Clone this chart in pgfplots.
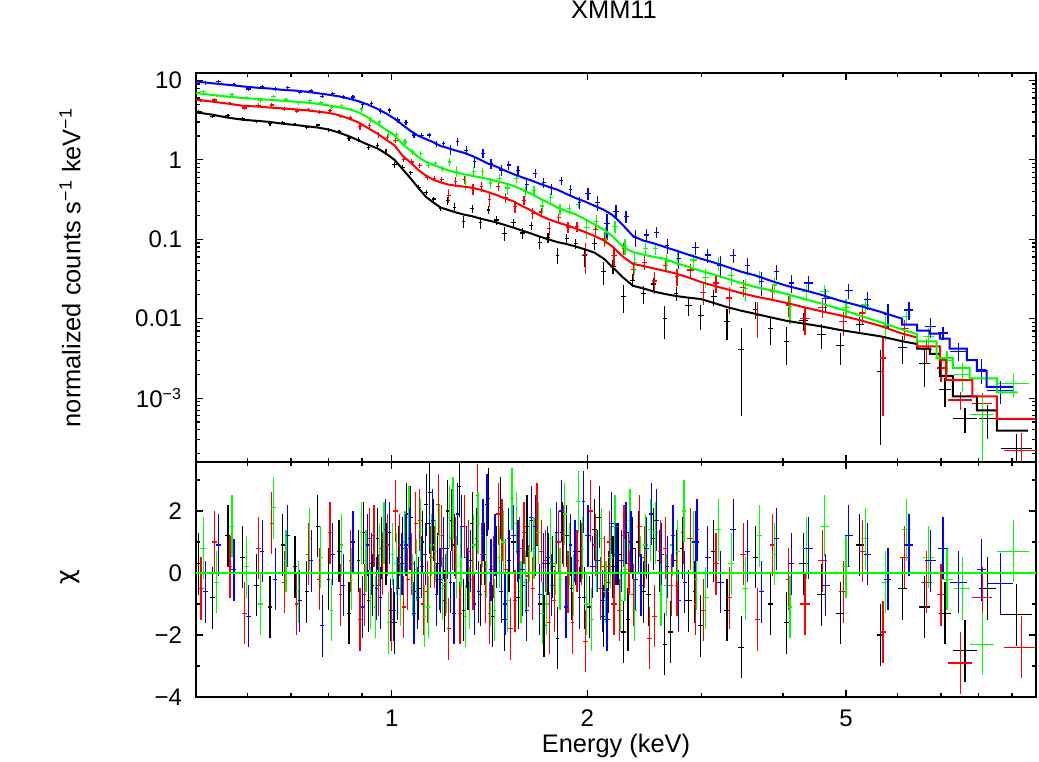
\documentclass[border=0pt]{standalone}
\usepackage{fontspec}
\setmainfont{Liberation Sans}
\newfontfamily\dejavu{DejaVu Sans}
\usepackage{pgfplots}
\usepackage{pgfplotstable}
\pgfplotsset{compat=1.18}

% columns: energy, half bin width, flux, flux error, residual (chi)
\pgfplotstableread{
E dE F dF C
0.505 0.005 4.01 0.198 0.3
0.530 0.005 3.55 0.185 -0.8
0.560 0.005 3.60 0.170 1.2
0.590 0.005 3.28 0.160 0.5
0.620 0.005 3.04 0.155 -0.4
0.650 0.005 2.84 0.150 -1.1
0.680 0.005 2.98 0.143 0.9
0.710 0.005 2.78 0.138 0.2
0.740 0.005 2.57 0.133 -0.6
0.770 0.005 2.74 0.128 1.5
0.800 0.005 2.39 0.120 -0.2
0.830 0.005 2.28 0.110 0.7
0.860 0.005 1.85 0.099 -1.3
0.890 0.005 1.81 0.140 0.4
0.920 0.005 1.44 0.124 -0.9
0.950 0.005 1.52 0.112 1.1
0.980 0.005 1.26 0.096 0.6
1.010 0.008 0.872 0.080 -1.6
1.040 0.008 0.809 0.061 0.8
1.070 0.008 0.686 0.048 1.8
1.100 0.008 0.451 0.038 -0.5
1.130 0.008 0.388 0.026 2.2
1.160 0.008 0.322 0.023 1.4
1.190 0.008 0.244 0.020 -0.3
1.220 0.008 0.306 0.035 2.0
1.250 0.008 0.250 0.033 0.9
1.290 0.008 0.168 0.031 -1.2
1.330 0.008 0.242 0.029 1.6
1.370 0.008 0.163 0.027 -0.7
1.410 0.008 0.234 0.026 2.4
1.450 0.012 0.175 0.024 0.5
1.490 0.012 0.118 0.023 -1.5
1.540 0.012 0.161 0.021 1.0
1.590 0.012 0.120 0.019 -0.4
1.640 0.012 0.148 0.018 1.7
1.690 0.012 0.0918 0.016 -1.0
1.740 0.012 0.1045 0.015 0.3
1.800 0.012 0.063 0.0138 -2.1
1.860 0.012 0.1027 0.013 1.2
1.920 0.012 0.0883 0.0122 0.6
1.980 0.020 0.0618 0.0165 -0.8
2.050 0.020 0.0889 0.0150 1.4
2.120 0.020 0.0394 0.0125 -1.4
2.190 0.020 0.0459 0.0097 0.2
2.270 0.020 0.0192 0.0073 -1.9
2.350 0.020 0.0306 0.0057 0.8
2.440 0.020 0.0208 0.0053 -0.6
2.530 0.020 0.0273 0.0048 1.1
2.630 0.020 0.0101 0.0045 -2.3
2.740 0.020 0.0210 0.0042 0.4
2.860 0.035 0.01476 0.0040 -0.9
2.990 0.035 0.01108 0.0039 -1.7
3.130 0.035 0.0189 0.0044 0.7
3.280 0.035 0.0093 0.0039 -1.2
3.450 0.035 0.00413 0.00353 -2.4
3.630 0.035 0.0131 0.0032 0.5
3.830 0.035 0.0075 0.0029 -1.0
4.050 0.035 0.0052 0.0026 -1.6
4.300 0.07 0.0094 0.0024 0.3
4.580 0.07 0.0064 0.0022 -0.7
4.900 0.07 0.0046 0.0020 -1.3
5.250 0.07 0.0085 0.0021 0.9
5.650 0.07 0.00216 0.0019 -2.0
6.100 0.10 0.00437 0.00166 -0.5
6.600 0.13 0.00272 0.00134 -1.1
7.100 0.15 0.00127 0.0005 -1.3
7.620 0.32 0.00056 0.0002 -2.5
8.250 0.25 0.00056 0.00025 -0.5
9.150 0.50 0.00023 0.00012 -1.35
0.905 0.005 1.82 0.132 1.3
0.935 0.005 1.42 0.118 -0.4
0.965 0.005 1.38 0.104 0.8
0.995 0.005 0.994 0.088 -1.2
1.025 0.008 0.915 0.070 0.5
1.055 0.008 0.772 0.054 1.9
1.085 0.008 0.486 0.041 -0.6
1.115 0.008 0.421 0.031 1.0
1.145 0.008 0.381 0.025 2.6
1.175 0.008 0.276 0.022 0.3
1.205 0.008 0.225 0.019 -0.9
1.235 0.008 0.285 0.034 1.7
1.270 0.008 0.301 0.032 2.8
1.310 0.008 0.194 0.030 -0.2
1.350 0.008 0.219 0.028 1.1
1.390 0.008 0.193 0.027 0.6
1.430 0.008 0.132 0.025 -1.4
1.470 0.012 0.206 0.024 2.1
1.515 0.012 0.155 0.022 0.4
1.565 0.012 0.118 0.020 -0.8
1.615 0.012 0.151 0.018 1.5
1.665 0.012 0.128 0.017 0.9
1.715 0.012 0.0775 0.0156 -1.7
1.770 0.012 0.0989 0.0144 0.2
1.830 0.012 0.106 0.0134 1.3
1.890 0.012 0.0777 0.0126 -0.5
1.950 0.012 0.0862 0.0117 0.7
2.015 0.020 0.0538 0.0156 -1.1
2.085 0.020 0.0866 0.0136 1.8
2.155 0.020 0.0467 0.0110 -0.3
2.230 0.020 0.0430 0.0084 0.6
2.310 0.020 0.0194 0.0064 -1.5
2.395 0.020 0.0305 0.0055 1.0
2.485 0.020 0.0195 0.0051 -0.7
2.580 0.020 0.0228 0.0046 0.4
2.685 0.020 0.0116 0.0044 -1.9
2.800 0.020 0.0221 0.0041 0.8
2.925 0.020 0.0156 0.0040 -0.6
}\tabblack

\pgfplotstableread{
E dE F dF C
0.509 0.005 5.56 0.285 -0.5
0.534 0.005 5.67 0.270 1.0
0.564 0.005 5.15 0.255 0.2
0.594 0.005 4.49 0.240 -1.3
0.624 0.005 4.89 0.235 0.8
0.654 0.005 4.91 0.228 1.6
0.684 0.005 4.38 0.223 -0.3
0.714 0.005 4.11 0.217 -1.0
0.744 0.005 4.33 0.210 0.6
0.774 0.005 4.01 0.203 -0.2
0.804 0.005 4.15 0.195 1.3
0.834 0.005 3.52 0.183 -0.7
0.864 0.005 3.37 0.165 0.4
0.894 0.005 2.60 0.236 -1.5
0.924 0.005 2.72 0.200 1.1
0.954 0.005 2.08 0.172 -0.4
0.984 0.005 1.93 0.144 0.9
1.014 0.008 1.76 0.122 2.0
1.044 0.008 1.02 0.090 -1.1
1.074 0.008 0.942 0.074 0.3
1.104 0.008 0.841 0.059 1.7
1.134 0.008 0.600 0.050 -0.6
1.164 0.008 0.582 0.045 0.5
1.194 0.008 0.570 0.042 1.2
1.224 0.008 0.358 0.074 -1.8
1.254 0.008 0.532 0.071 0.8
1.294 0.008 0.564 0.069 1.5
1.334 0.008 0.432 0.067 -0.2
1.374 0.008 0.458 0.063 0.6
1.414 0.008 0.314 0.059 -1.3
1.458 0.012 0.463 0.054 1.9
1.498 0.012 0.335 0.050 0.1
1.548 0.012 0.260 0.045 -0.9
1.598 0.012 0.311 0.039 1.3
1.648 0.012 0.213 0.035 -0.5
1.698 0.012 0.221 0.030 0.7
1.748 0.012 0.137 0.027 -1.6
1.808 0.012 0.187 0.024 1.0
1.868 0.012 0.143 0.023 -0.3
1.928 0.012 0.145 0.021 0.4
1.988 0.020 0.064 0.027 -2.2
2.058 0.020 0.132 0.024 0.9
2.128 0.020 0.101 0.021 0.2
2.198 0.020 0.0624 0.0176 -1.0
2.278 0.020 0.0758 0.0132 1.2
2.358 0.020 0.0415 0.0108 -0.7
2.448 0.020 0.0511 0.0101 0.5
2.538 0.020 0.0298 0.0095 -1.4
2.638 0.020 0.0470 0.0088 0.8
2.748 0.020 0.0337 0.0081 -0.4
2.885 0.035 0.0410 0.0073 1.1
3.015 0.035 0.0213 0.0064 -1.2
3.155 0.035 0.0282 0.0073 0.3
3.305 0.035 0.0182 0.0066 -0.8
3.475 0.035 0.0245 0.0059 0.6
3.655 0.035 0.0110 0.0053 -1.5
3.855 0.035 0.0218 0.0049 0.9
4.075 0.035 0.0149 0.0044 -0.2
4.325 0.07 0.0101 0.0039 -1.0
4.605 0.07 0.0138 0.0035 0.4
4.950 0.07 0.0092 0.0031 -0.6
5.300 0.07 0.0118 0.0031 0.7
5.700 0.07 0.0032 0.0026 -1.9
6.150 0.10 0.0075 0.0021 0.5
6.650 0.13 0.0041 0.0014 -0.3
7.000 0.10 0.0024 0.0008 -0.7
7.500 0.32 0.00095 0.00025 -2.9
8.100 0.30 0.00085 0.0003 -0.8
9.300 0.55 0.00022 0.00014 -2.4
0.909 0.005 2.57 0.218 -0.7
0.939 0.005 2.54 0.186 1.2
0.969 0.005 2.02 0.158 0.3
0.999 0.005 1.46 0.133 -1.5
1.029 0.008 1.42 0.106 0.9
1.059 0.008 1.00 0.082 -0.2
1.089 0.008 0.936 0.066 1.6
1.119 0.008 0.630 0.055 -1.0
1.149 0.008 0.619 0.048 0.5
1.179 0.008 0.635 0.043 2.2
1.209 0.008 0.489 0.040 -0.4
1.239 0.008 0.562 0.072 1.1
1.274 0.008 0.376 0.070 -1.3
1.314 0.008 0.499 0.068 0.7
1.354 0.008 0.594 0.065 2.5
1.394 0.008 0.369 0.061 -0.6
1.434 0.008 0.386 0.056 0.2
1.478 0.012 0.417 0.052 1.4
1.523 0.012 0.230 0.047 -1.8
1.573 0.012 0.314 0.042 0.8
1.623 0.012 0.241 0.037 -0.1
1.673 0.012 0.276 0.032 1.9
1.723 0.012 0.201 0.029 0.4
1.778 0.012 0.148 0.026 -0.9
1.838 0.012 0.184 0.023 1.2
1.898 0.012 0.109 0.021 -1.6
1.958 0.012 0.142 0.020 0.6
2.023 0.020 0.168 0.026 2.0
2.093 0.020 0.0917 0.023 -0.5
2.163 0.020 0.107 0.019 1.0
2.238 0.020 0.0515 0.0154 -1.2
2.318 0.020 0.0576 0.0119 0.3
2.403 0.020 0.0632 0.0105 1.5
2.493 0.020 0.0239 0.0098 -2.1
2.588 0.020 0.0479 0.0091 0.7
2.693 0.020 0.0351 0.0085 -0.4
2.808 0.020 0.0450 0.0077 1.3
2.933 0.020 0.0242 0.0068 -1.0
}\tabred

\pgfplotstableread{
E dE F dF C
0.513 0.005 7.18 0.345 0.8
0.538 0.005 6.45 0.328 -0.3
0.568 0.005 6.72 0.313 1.5
0.598 0.005 6.06 0.300 0.2
0.628 0.005 5.56 0.293 -1.0
0.658 0.005 6.30 0.285 2.1
0.688 0.005 5.66 0.278 0.4
0.718 0.005 5.24 0.270 -0.6
0.748 0.005 5.54 0.263 1.1
0.778 0.005 5.20 0.254 0.5
0.808 0.005 4.56 0.243 -1.2
0.838 0.005 4.81 0.230 0.9
0.868 0.005 4.31 0.218 -0.2
0.898 0.005 4.36 0.316 1.3
0.928 0.005 3.18 0.272 -0.8
0.958 0.005 2.99 0.228 0.6
0.988 0.005 2.09 0.192 -1.6
1.018 0.008 2.10 0.164 0.3
1.048 0.008 1.68 0.125 1.0
1.078 0.008 1.26 0.104 -0.4
1.108 0.008 1.20 0.086 1.4
1.138 0.008 0.857 0.075 -1.1
1.168 0.008 0.908 0.069 0.7
1.198 0.008 0.768 0.064 -0.5
1.228 0.008 0.940 0.111 1.8
1.258 0.008 0.721 0.105 0.2
1.298 0.008 0.521 0.099 -1.4
1.338 0.008 0.715 0.095 0.9
1.378 0.008 0.708 0.090 1.2
1.418 0.008 0.510 0.086 -0.7
1.466 0.012 0.581 0.081 0.5
1.506 0.012 0.441 0.077 -0.9
1.556 0.012 0.583 0.071 1.6
1.606 0.012 0.401 0.063 -0.3
1.656 0.012 0.414 0.056 0.8
1.706 0.012 0.262 0.049 -1.3
1.756 0.012 0.338 0.044 1.1
1.816 0.012 0.243 0.038 -0.2
1.876 0.012 0.245 0.034 0.6
1.936 0.012 0.276 0.031 2.3
1.996 0.020 0.140 0.040 -1.0
2.066 0.020 0.169 0.034 0.4
2.136 0.020 0.115 0.029 -0.6
2.206 0.020 0.144 0.024 1.5
2.286 0.020 0.0818 0.0176 0.1
2.366 0.020 0.0508 0.0152 -1.2
2.456 0.020 0.0767 0.0141 0.9
2.546 0.020 0.0772 0.0132 1.3
2.646 0.020 0.0520 0.0125 -0.4
2.756 0.020 0.0577 0.0110 0.7
2.910 0.035 0.0549 0.0099 1.0
3.040 0.035 0.0330 0.0088 -0.8
3.180 0.035 0.0501 0.0101 1.4
3.330 0.035 0.0347 0.0090 0.3
3.500 0.035 0.0241 0.0078 -0.5
3.680 0.035 0.0334 0.0070 1.2
3.880 0.035 0.0266 0.0064 0.6
4.100 0.035 0.0142 0.0057 -1.1
4.350 0.07 0.0218 0.0050 0.8
4.630 0.07 0.0220 0.0043 1.5
5.000 0.07 0.0139 0.0037 0.2
5.350 0.07 0.0149 0.0035 1.1
5.750 0.07 0.0081 0.0029 -0.3
6.200 0.10 0.0106 0.0023 1.4
6.700 0.13 0.0060 0.0017 0.5
7.150 0.15 0.0030 0.0009 -0.2
7.550 0.22 0.0020 0.0008 -0.5
8.100 0.35 0.00062 0.00048 -2.3
9.050 0.50 0.00153 0.0005 0.7
0.913 0.005 3.79 0.294 0.4
0.943 0.005 2.85 0.250 -1.1
0.973 0.005 2.89 0.210 1.3
1.003 0.005 2.33 0.178 0.6
1.033 0.008 1.70 0.144 -0.7
1.063 0.008 1.64 0.114 1.8
1.093 0.008 1.20 0.095 0.1
1.123 0.008 0.897 0.081 -1.4
1.153 0.008 0.965 0.072 0.9
1.183 0.008 0.910 0.066 1.2
1.213 0.008 0.752 0.062 -0.3
1.243 0.008 0.947 0.108 2.1
1.278 0.008 0.731 0.102 0.5
1.318 0.008 0.568 0.097 -0.8
1.358 0.008 0.763 0.092 1.6
1.398 0.008 0.603 0.088 0.2
1.438 0.008 0.455 0.083 -1.2
1.486 0.012 0.604 0.079 1.0
1.531 0.012 0.666 0.074 2.4
1.581 0.012 0.405 0.067 -0.6
1.631 0.012 0.436 0.059 0.7
1.681 0.012 0.415 0.052 1.3
1.731 0.012 0.261 0.046 -1.0
1.786 0.012 0.282 0.041 0.3
1.846 0.012 0.305 0.036 1.9
1.906 0.012 0.202 0.032 -0.4
1.966 0.012 0.215 0.029 0.8
2.031 0.020 0.112 0.037 -1.5
2.101 0.020 0.178 0.031 1.1
2.171 0.020 0.133 0.026 0.5
2.246 0.020 0.0754 0.0207 -0.9
2.326 0.020 0.102 0.0164 1.7
2.411 0.020 0.0694 0.0146 0.2
2.501 0.020 0.0811 0.0136 1.4
2.596 0.020 0.0495 0.0129 -0.7
2.701 0.020 0.0641 0.0118 0.9
2.816 0.020 0.0684 0.0105 2.0
2.941 0.020 0.0406 0.0094 -0.2
}\tabgreen

\pgfplotstableread{
E dE F dF C
0.517 0.005 9.31 0.48 -0.6
0.542 0.005 9.61 0.46 0.9
0.572 0.005 8.84 0.44 0.1
0.602 0.005 7.81 0.42 -1.4
0.632 0.005 8.38 0.405 0.7
0.662 0.005 7.82 0.395 -0.2
0.692 0.005 8.06 0.38 1.2
0.722 0.005 7.11 0.373 -0.9
0.752 0.005 7.34 0.36 0.4
0.782 0.005 6.31 0.345 -1.7
0.812 0.005 6.80 0.33 0.6
0.842 0.005 6.17 0.315 -0.4
0.872 0.005 6.20 0.295 1.0
0.902 0.005 4.97 0.436 -1.1
0.932 0.005 5.07 0.396 0.3
0.962 0.005 4.12 0.352 -0.8
0.992 0.005 4.25 0.308 1.3
1.022 0.008 3.17 0.264 -0.5
1.052 0.008 2.95 0.22 0.9
1.082 0.008 2.06 0.184 -1.3
1.112 0.008 2.03 0.16 0.2
1.142 0.008 2.05 0.146 1.6
1.172 0.008 1.57 0.133 -0.7
1.202 0.008 1.59 0.119 0.8
1.232 0.008 1.35 0.21 -0.3
1.262 0.008 1.70 0.198 1.9
1.302 0.008 1.32 0.185 0.5
1.342 0.008 0.952 0.168 -1.0
1.382 0.008 1.21 0.15 1.4
1.422 0.008 0.903 0.134 0.1
1.474 0.012 0.746 0.123 -0.6
1.514 0.012 0.862 0.111 1.1
1.564 0.012 0.729 0.099 0.7
1.614 0.012 0.492 0.09 -1.2
1.664 0.012 0.674 0.083 1.5
1.714 0.012 0.523 0.075 0.3
1.764 0.012 0.432 0.069 -0.4
1.824 0.012 0.546 0.063 2.0
1.884 0.012 0.420 0.056 0.9
1.944 0.012 0.290 0.05 -0.8
2.004 0.020 0.379 0.066 1.2
2.074 0.020 0.288 0.058 0.4
2.144 0.020 0.157 0.052 -1.5
2.214 0.020 0.226 0.044 0.6
2.294 0.020 0.193 0.033 1.3
2.374 0.020 0.105 0.024 -0.2
2.464 0.020 0.113 0.021 0.8
2.554 0.020 0.122 0.0196 1.7
2.654 0.020 0.0835 0.0176 0.2
2.764 0.020 0.0577 0.0158 -0.9
2.935 0.035 0.0781 0.0141 1.0
3.065 0.035 0.0633 0.0125 0.5
3.205 0.035 0.0467 0.0143 -0.3
3.355 0.035 0.0626 0.0126 1.4
3.525 0.035 0.0466 0.0109 0.7
3.705 0.035 0.0291 0.0098 -0.6
3.905 0.035 0.0392 0.0084 1.1
4.125 0.035 0.0282 0.0073 0.3
4.375 0.07 0.0282 0.0064 0.8
4.655 0.07 0.0178 0.0056 -0.4
5.050 0.07 0.0224 0.0047 1.2
5.400 0.07 0.0173 0.0046 0.6
5.800 0.07 0.0114 0.0039 -0.2
6.250 0.10 0.0129 0.0032 0.9
6.750 0.13 0.0080 0.0023 0.4
7.050 0.12 0.0066 0.0012 0.8
7.450 0.22 0.0039 0.0010 -0.3
8.080 0.14 0.0023 0.0008 0.1
8.630 0.40 0.00125 0.0004 -0.35
0.917 0.005 5.57 0.416 0.9
0.947 0.005 4.48 0.374 -0.5
0.977 0.005 4.58 0.330 1.4
1.007 0.008 3.23 0.286 -1.2
1.037 0.008 3.09 0.242 0.3
1.067 0.008 2.74 0.202 1.1
1.097 0.008 2.01 0.172 -0.8
1.127 0.008 2.00 0.153 0.6
1.157 0.008 1.98 0.139 1.7
1.187 0.008 1.54 0.126 -0.2
1.217 0.008 1.54 0.116 0.8
1.247 0.008 1.09 0.204 -1.3
1.282 0.008 1.56 0.190 1.5
1.322 0.008 1.24 0.176 0.4
1.362 0.008 0.965 0.159 -0.6
1.402 0.008 1.25 0.141 2.2
1.442 0.008 0.970 0.128 0.9
1.494 0.012 0.663 0.117 -1.0
1.539 0.012 0.826 0.105 1.2
1.589 0.012 0.639 0.095 0.1
1.639 0.012 0.730 0.086 1.8
1.689 0.012 0.470 0.079 -0.7
1.739 0.012 0.516 0.072 0.5
1.794 0.012 0.526 0.066 1.3
1.854 0.012 0.330 0.059 -1.1
1.914 0.012 0.387 0.053 0.7
1.974 0.012 0.424 0.047 2.3
2.039 0.020 0.294 0.062 0.2
2.109 0.020 0.201 0.055 -0.9
2.179 0.020 0.293 0.048 1.6
2.254 0.020 0.190 0.0385 0.4
2.334 0.020 0.159 0.0286 1.0
2.419 0.020 0.0939 0.0227 -0.4
2.509 0.020 0.131 0.0204 1.9
2.604 0.020 0.0957 0.0186 0.6
2.709 0.020 0.0961 0.0167 1.2
2.824 0.020 0.0635 0.0150 -0.3
2.949 0.020 0.0791 0.0133 1.4
}\tabblue

\begin{document}
\begin{tikzpicture}
\useasboundingbox (-98pt,-149.5pt) rectangle (421.5pt,231pt);

\begin{loglogaxis}[
  scale only axis, width=420pt, height=194.5pt,
  at={(0,0)}, anchor=south west,
  xmin=0.5, xmax=9.8, ymin=1.57e-4, ymax=12.4,
  xtick={1,2,5}, minor xtick={0.6,0.7,0.8,0.9,3,4,6,7,8,9},
  xticklabels={,,},
  ytick={0.001,0.01,0.1,1,10},
  yticklabels={10\textsuperscript{−3},0.01,0.1,1,10},
  minor ytick={2e-4,3e-4,4e-4,5e-4,6e-4,7e-4,8e-4,9e-4,2e-3,3e-3,4e-3,5e-3,6e-3,7e-3,8e-3,9e-3,0.02,0.03,0.04,0.05,0.06,0.07,0.08,0.09,0.2,0.3,0.4,0.5,0.6,0.7,0.8,0.9,2,3,4,5,6,7,8,9},
  tick align=inside, major tick length=3.5pt, minor tick length=2.2pt,
  tick style={black, line width=0.6pt},
  axis line style={line width=0.75pt},
  tick label style={font=\fontsize{12}{14}\selectfont},
  yticklabel style={xshift=-3.5pt},
  ylabel={normalized counts s\textsuperscript{−1} keV\textsuperscript{−1}},
  ylabel style={at={(axis description cs:-0.150,0.5)}, anchor=center, font=\fontsize{12.7}{15}\selectfont},
  title={XMM11},
  title style={at={(axis description cs:0.4976,1.131)}, anchor=center, font=\fontsize{12.7}{15}\selectfont},
]
\addplot[draw=none, mark=none, skip coords between index={69}{200}, error bars/.cd, x dir=both, x explicit, y dir=both, y explicit, error mark=none, error bar style={draw=black, line width=0.6pt}]
  table[x=E, y=F, x error=dE, y error=dF] {\tabblack};
\addplot[draw=none, mark=none, skip coords between index={69}{200}, error bars/.cd, x dir=both, x explicit, y dir=both, y explicit, error mark=none, error bar style={draw=red, line width=0.6pt}]
  table[x=E, y=F, x error=dE, y error=dF] {\tabred};
\addplot[draw=none, mark=none, skip coords between index={69}{200}, error bars/.cd, x dir=both, x explicit, y dir=both, y explicit, error mark=none, error bar style={draw=green, line width=0.6pt}]
  table[x=E, y=F, x error=dE, y error=dF] {\tabgreen};
\addplot[draw=none, mark=none, skip coords between index={69}{200}, error bars/.cd, x dir=both, x explicit, y dir=both, y explicit, error mark=none, error bar style={draw=blue, line width=0.6pt}]
  table[x=E, y=F, x error=dE, y error=dF] {\tabblue};

\addplot[black, mark=none, line width=1pt] coordinates {
(0.50,3.97)(0.53,3.7)(0.56,3.4)(0.59,3.2)(0.62,3.1)(0.65,3.0)(0.68,2.85)(0.71,2.75)
(0.74,2.65)(0.77,2.55)(0.80,2.41)(0.83,2.2)(0.86,1.98)(0.89,1.75)(0.92,1.55)(0.95,1.40)
(0.98,1.20)(1.01,1.0)(1.04,0.76)(1.07,0.58)(1.10,0.44)(1.13,0.34)(1.16,0.29)(1.19,0.25)
(1.22,0.235)(1.25,0.22)(1.29,0.205)(1.33,0.195)(1.37,0.182)(1.41,0.172)(1.45,0.163)
(1.49,0.152)(1.54,0.140)(1.59,0.128)(1.64,0.118)(1.69,0.108)(1.74,0.100)(1.80,0.092)
(1.86,0.087)(1.92,0.081)(1.98,0.075)(2.05,0.068)(2.12,0.057)(2.19,0.044)(2.27,0.033)
(2.35,0.026)(2.44,0.024)(2.53,0.022)(2.63,0.0205)(2.74,0.0193)(2.86,0.0184)(2.99,0.0177)
(3.13,0.0158)(3.28,0.0140)(3.45,0.0126)(3.63,0.0115)(3.83,0.0104)(4.05,0.0094)
(4.30,0.0087)(4.58,0.0080)(4.90,0.0072)(5.25,0.0066)(5.65,0.0060)(6.10,0.0052)
(6.43,0.0048)(6.43,0.0042)(6.73,0.0042)(6.73,0.0036)(6.97,0.0036)(6.97,0.0019)
(7.30,0.0019)(7.30,0.00105)(7.95,0.00105)(7.95,0.00070)(8.53,0.00070)(8.53,0.00039)(9.52,0.00039)
};
\addplot[red, mark=none, line width=1pt] coordinates {
(0.50,5.73)(0.53,5.4)(0.56,5.1)(0.59,4.8)(0.62,4.7)(0.65,4.55)(0.68,4.45)(0.71,4.33)
(0.74,4.2)(0.77,4.05)(0.80,3.9)(0.83,3.65)(0.86,3.3)(0.89,2.95)(0.92,2.5)(0.95,2.15)
(0.98,1.8)(1.01,1.52)(1.04,1.12)(1.07,0.92)(1.10,0.74)(1.13,0.63)(1.16,0.56)(1.19,0.52)
(1.22,0.49)(1.25,0.475)(1.29,0.46)(1.33,0.445)(1.37,0.42)(1.41,0.39)(1.45,0.36)
(1.49,0.33)(1.54,0.30)(1.59,0.26)(1.64,0.23)(1.69,0.20)(1.74,0.18)(1.80,0.163)
(1.86,0.150)(1.92,0.137)(1.98,0.124)(2.05,0.110)(2.12,0.097)(2.19,0.080)(2.27,0.060)
(2.35,0.049)(2.44,0.046)(2.53,0.043)(2.63,0.040)(2.74,0.037)(2.86,0.033)(2.99,0.029)
(3.13,0.026)(3.28,0.0235)(3.45,0.021)(3.63,0.019)(3.83,0.0174)(4.05,0.0158)
(4.30,0.0140)(4.58,0.0124)(4.90,0.0110)(5.25,0.0096)(5.65,0.0081)(6.10,0.0065)
(6.43,0.0058)(6.43,0.0045)(6.97,0.0045)(6.97,0.0030)(7.13,0.0030)(7.13,0.00168)
(7.82,0.00168)(7.82,0.00105)(8.53,0.00105)(8.53,0.00055)(9.9,0.00055)
};
\addplot[green, mark=none, line width=1pt] coordinates {
(0.50,6.95)(0.53,6.55)(0.56,6.25)(0.59,6.0)(0.62,5.85)(0.65,5.7)(0.68,5.55)(0.71,5.4)
(0.74,5.25)(0.77,5.07)(0.80,4.85)(0.83,4.6)(0.86,4.35)(0.89,3.95)(0.92,3.4)(0.95,2.85)
(0.98,2.4)(1.01,2.05)(1.04,1.56)(1.07,1.3)(1.10,1.08)(1.13,0.94)(1.16,0.86)(1.19,0.80)
(1.22,0.74)(1.25,0.70)(1.29,0.66)(1.33,0.63)(1.37,0.60)(1.41,0.57)(1.45,0.54)
(1.49,0.51)(1.54,0.47)(1.59,0.42)(1.64,0.37)(1.69,0.325)(1.74,0.29)(1.80,0.25)
(1.86,0.225)(1.92,0.205)(1.98,0.18)(2.05,0.155)(2.12,0.132)(2.19,0.108)(2.27,0.080)
(2.35,0.069)(2.44,0.064)(2.53,0.060)(2.63,0.057)(2.74,0.050)(2.86,0.045)(2.99,0.040)
(3.13,0.036)(3.28,0.032)(3.45,0.028)(3.63,0.025)(3.83,0.0228)(4.05,0.0205)
(4.30,0.0178)(4.58,0.0155)(4.90,0.0132)(5.25,0.0110)(5.65,0.0090)(6.10,0.0073)
(6.43,0.0064)(6.43,0.0052)(6.89,0.0052)(6.89,0.0032)(7.30,0.0032)(7.30,0.0024)
(7.75,0.0024)(7.75,0.00177)(8.53,0.00177)(8.53,0.00118)(9.18,0.00118)
};
\addplot[blue, mark=none, line width=1pt] coordinates {
(0.50,9.7)(0.53,9.2)(0.56,8.8)(0.59,8.4)(0.62,8.1)(0.65,7.9)(0.68,7.6)(0.71,7.45)
(0.74,7.2)(0.77,6.9)(0.80,6.6)(0.83,6.3)(0.86,5.9)(0.89,5.45)(0.92,4.95)(0.95,4.4)
(0.98,3.85)(1.01,3.3)(1.04,2.75)(1.07,2.3)(1.10,2.0)(1.13,1.82)(1.16,1.66)(1.19,1.49)
(1.22,1.41)(1.25,1.32)(1.29,1.23)(1.33,1.12)(1.37,1.0)(1.41,0.89)(1.45,0.82)
(1.49,0.74)(1.54,0.66)(1.59,0.60)(1.64,0.55)(1.69,0.50)(1.74,0.46)(1.80,0.42)
(1.86,0.37)(1.92,0.33)(1.98,0.30)(2.05,0.265)(2.12,0.235)(2.19,0.20)(2.27,0.15)
(2.35,0.11)(2.44,0.096)(2.53,0.089)(2.63,0.080)(2.74,0.072)(2.86,0.064)(2.99,0.057)
(3.13,0.051)(3.28,0.045)(3.45,0.039)(3.63,0.035)(3.83,0.030)(4.05,0.026)
(4.30,0.023)(4.58,0.020)(4.90,0.0168)(5.25,0.0145)(5.65,0.0122)(6.10,0.0100)
(6.10,0.0084)(6.43,0.0084)(6.43,0.0071)(6.73,0.0071)(6.73,0.0065)(6.97,0.0065)
(6.97,0.0056)(7.22,0.0056)(7.22,0.0042)(7.67,0.0042)(7.67,0.0030)(7.95,0.0030)
(7.95,0.0022)(8.23,0.0022)(8.23,0.00139)(9.03,0.00139)
};
\end{loglogaxis}

\begin{semilogxaxis}[
  scale only axis, width=420pt, height=117.5pt,
  at={(0,0)}, anchor=north west,
  xmin=0.5, xmax=9.8, ymin=-4, ymax=3.58,
  xtick={1,2,5}, minor xtick={0.6,0.7,0.8,0.9,3,4,6,7,8,9},
  xticklabels={1,2,5},
  ytick={-4,-2,0,2}, yticklabels={−4,−2,0,2},
  minor ytick={-3,-1,1,3},
  tick align=inside, major tick length=3.5pt, minor tick length=2.2pt,
  tick style={black, line width=0.6pt},
  axis line style={line width=0.75pt},
  tick label style={font=\fontsize{12}{14}\selectfont},
  xticklabel style={yshift=-3pt},
  yticklabel style={xshift=-3.5pt},
  xlabel={Energy (keV)},
  xlabel style={at={(axis description cs:0.5,-0.21)}, anchor=center, font=\fontsize{12.7}{15}\selectfont},
  ylabel={{\dejavu χ}},
  ylabel style={at={(axis description cs:-0.150,0.51)}, anchor=center, font=\fontsize{12.7}{15}\selectfont},
]
\addplot[draw=none, mark=none, error bars/.cd, x dir=both, x explicit, y dir=both, y fixed=1, error mark=none, error bar style={draw=black, line width=0.6pt}]
  table[x=E, y=C, x error=dE] {\tabblack};
\addplot[draw=none, mark=none, error bars/.cd, x dir=both, x explicit, y dir=both, y fixed=1, error mark=none, error bar style={draw=red, line width=0.6pt}]
  table[x=E, y=C, x error=dE] {\tabred};
\addplot[draw=none, mark=none, error bars/.cd, x dir=both, x explicit, y dir=both, y fixed=1, error mark=none, error bar style={draw=green, line width=0.6pt}]
  table[x=E, y=C, x error=dE] {\tabgreen};
\addplot[draw=none, mark=none, error bars/.cd, x dir=both, x explicit, y dir=both, y fixed=1, error mark=none, error bar style={draw=blue, line width=0.6pt}]
  table[x=E, y=C, x error=dE] {\tabblue};
\addplot[green, line width=0.8pt, mark=none] coordinates {(0.5,0) (9.8,0)};
\end{semilogxaxis}
\end{tikzpicture}
\end{document}
